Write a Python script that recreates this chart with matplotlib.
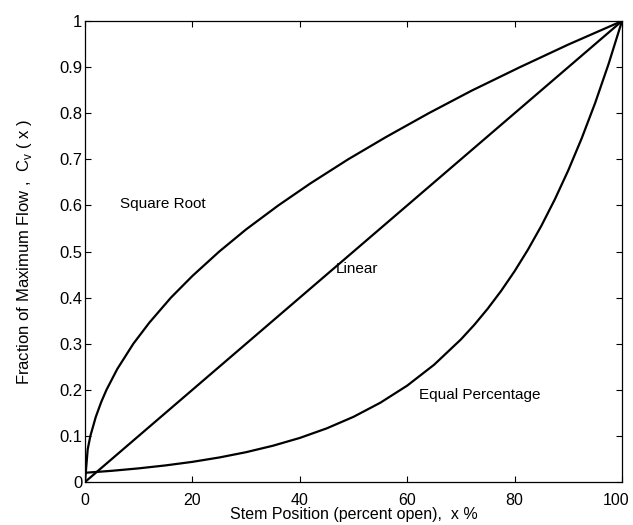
import numpy as np
import matplotlib
matplotlib.use('Agg')
import matplotlib.pyplot as plt
import matplotlib.transforms as mtransforms

plt.rcParams['font.family'] = ['Liberation Sans', 'DejaVu Sans']

# stem position (percent open)
sqrt_x = [0, 0.5, 1, 2, 3, 4, 6, 9, 12, 16, 20, 25, 30, 36, 42, 49, 56, 64, 72, 81, 90, 100]
sqrt_y = [0, 0.071, 0.1, 0.141, 0.173, 0.2, 0.245, 0.3, 0.346, 0.4, 0.447, 0.5, 0.548,
          0.6, 0.648, 0.7, 0.748, 0.8, 0.849, 0.9, 0.949, 1.0]

lin_x = [0, 100]
lin_y = [0, 1.0]

eqp_x = [0, 5, 10, 15, 20, 25, 30, 35, 40, 45, 50, 55, 60, 65, 70, 72.5, 75, 77.5, 80,
         82.5, 85, 87.5, 90, 92.5, 95, 97.5, 100]
eqp_y = [0.02, 0.0243, 0.0296, 0.036, 0.0437, 0.0532, 0.0647, 0.0787, 0.0956, 0.1163,
         0.1414, 0.172, 0.2091, 0.2543, 0.3093, 0.341, 0.3761, 0.4147, 0.4573,
         0.5043, 0.5561, 0.6133, 0.6762, 0.7457, 0.8222, 0.9068, 1.0]

x_ticks = [0, 20, 40, 60, 80, 100]
y_ticks = [0, 0.1, 0.2, 0.3, 0.4, 0.5, 0.6, 0.7, 0.8, 0.9, 1]
y_ticklabels = ['0', '0.1', '0.2', '0.3', '0.4', '0.5', '0.6', '0.7', '0.8', '0.9', '1']

fig = plt.figure(figsize=(6.33, 5.25), dpi=100)
ax = fig.add_axes([0.1343, 0.0819, 0.8483, 0.878])

ax.plot(sqrt_x, sqrt_y, color='black', lw=1.6)
ax.plot(lin_x, lin_y, color='black', lw=1.6)
ax.plot(eqp_x, eqp_y, color='black', lw=1.6)

ax.text(6.5, 0.603, 'Square Root', fontsize=11, va='center', ha='left')
ax.text(46.7, 0.462, 'Linear', fontsize=11, va='center', ha='left')
ax.text(62.2, 0.189, 'Equal Percentage', fontsize=11, va='center', ha='left')

ax.set_xlim(0, 100)
ax.set_ylim(0, 1)
ax.set_xticks(x_ticks)
ax.set_yticks(y_ticks)
ax.set_yticklabels(y_ticklabels)
ax.tick_params(direction='in', top=True, right=True, length=4, labelsize=12)
ax.tick_params(axis='x', pad=8, labelsize=11.5)
ax.tick_params(axis='y', pad=2)
for s in ax.spines.values():
    s.set_linewidth(0.9)

# nudge the "100" label so it stays inside the figure
last = ax.get_xticklabels()[-1]
last.set_transform(last.get_transform() + mtransforms.ScaledTranslation(-4 / 72, 0, fig.dpi_scale_trans))

ax.set_xlabel('Stem Position (percent open),  x %', fontsize=11.5, labelpad=-1)
ax.set_ylabel('Fraction of Maximum Flow ,  C$_\\mathregular{v}$ ( x )', fontsize=12, labelpad=18)

fig.savefig('out.png', dpi=100)
